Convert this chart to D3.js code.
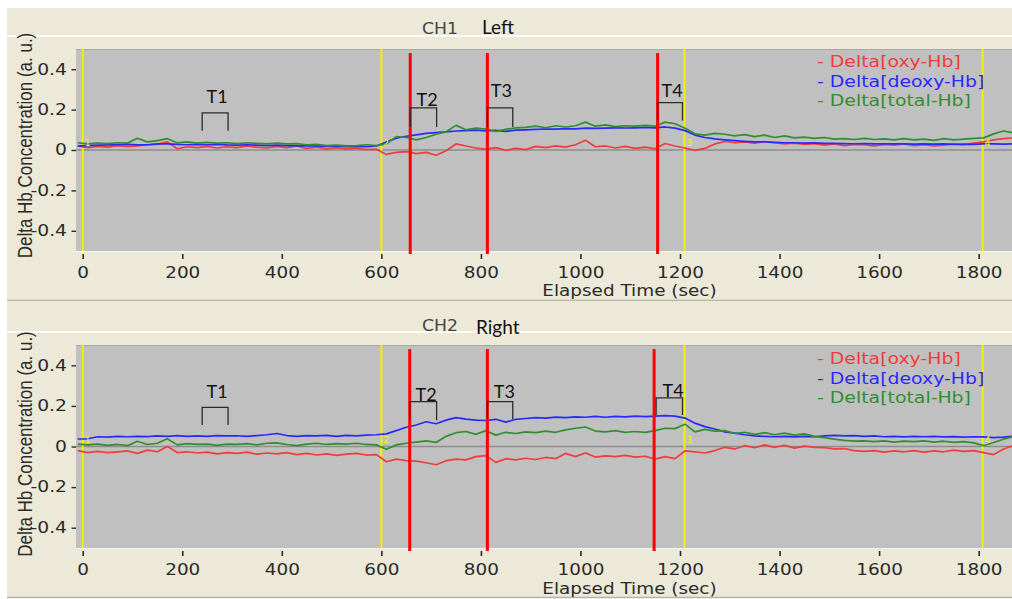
<!DOCTYPE html>
<html>
<head>
<meta charset="utf-8">
<script src="https://cdn.jsdelivr.net/npm/d3@7"></script>
<style>
  body { margin: 0; background: #ffffff; }
  svg { display: block; }
</style>
</head>
<body>
<svg id="chart" width="1012" height="599"></svg>
<script>
// ---- Sampling grid (seconds): time of sample i = sampleStart + i * sampleStep
const sampleStart = -10;
const sampleStep = 20;

// ---- CH1 (Left) hemoglobin changes, a.u.
const ch1Oxy = [0.02,0.012,0.018,0.014,0.022,0.016,0.02,0.026,0.028,0.04,0.006,0.016,0.012,0.018,0.01,0.016,0.012,0.02,0.014,0.01,
  0.018,0.012,0.02,0.008,0.014,0.006,0.012,0.004,0.008,0.002,0.004,-0.022,-0.012,-0.008,-0.018,-0.012,-0.026,-0.004,0.03,0.02,
  0.01,0.004,0.012,-0.002,0.008,0.002,0.018,0.012,0.02,0.014,0.026,0.048,0.016,0.02,0.01,0.018,0.008,0.014,0.006,0.032,
  0.02,0.01,-0.002,0.008,0.03,0.042,0.036,0.04,0.034,0.042,0.036,0.03,0.034,0.028,0.032,0.024,0.03,0.022,0.028,0.026,
  0.02,0.028,0.024,0.03,0.022,0.026,0.02,0.024,0.03,0.026,0.034,0.04,0.05,0.056,0.06];
const ch1Deoxy = [0.02,0.022,0.024,0.025,0.026,0.028,0.025,0.026,0.03,0.03,0.028,0.026,0.028,0.026,0.028,0.025,0.024,0.026,0.024,0.022,
  0.024,0.022,0.02,0.022,0.02,0.018,0.02,0.016,0.018,0.016,0.02,0.04,0.058,0.068,0.075,0.082,0.086,0.09,0.094,0.096,
  0.098,0.095,0.097,0.092,0.098,0.1,0.102,0.104,0.103,0.106,0.105,0.108,0.107,0.108,0.11,0.109,0.11,0.112,0.11,0.114,
  0.108,0.096,0.074,0.062,0.055,0.05,0.046,0.043,0.04,0.04,0.038,0.036,0.036,0.034,0.035,0.033,0.033,0.032,0.031,0.032,
  0.03,0.031,0.03,0.03,0.029,0.03,0.029,0.03,0.028,0.029,0.028,0.03,0.03,0.029,0.03];
const ch1Total = [0.036,0.03,0.034,0.032,0.036,0.034,0.058,0.04,0.046,0.056,0.036,0.04,0.034,0.038,0.034,0.036,0.032,0.036,0.033,0.03,
  0.034,0.03,0.032,0.026,0.028,0.022,0.024,0.02,0.022,0.026,0.022,0.03,0.066,0.062,0.05,0.062,0.078,0.09,0.122,0.1,
  0.108,0.104,0.092,0.102,0.11,0.112,0.118,0.11,0.12,0.114,0.12,0.138,0.118,0.124,0.116,0.12,0.118,0.122,0.118,0.138,
  0.13,0.108,0.08,0.074,0.082,0.078,0.07,0.076,0.066,0.074,0.062,0.07,0.06,0.064,0.058,0.062,0.054,0.056,0.052,0.058,
  0.052,0.055,0.05,0.056,0.05,0.054,0.048,0.056,0.05,0.054,0.058,0.06,0.08,0.094,0.084];

// ---- CH2 (Right) hemoglobin changes, a.u.
const ch2Oxy = [-0.02,-0.03,-0.024,-0.03,-0.026,-0.022,-0.034,-0.018,-0.026,0.0,-0.03,-0.026,-0.032,-0.028,-0.036,-0.03,-0.034,-0.028,-0.038,-0.032,
  -0.036,-0.03,-0.04,-0.034,-0.042,-0.036,-0.044,-0.038,-0.034,-0.042,-0.04,-0.075,-0.062,-0.07,-0.072,-0.08,-0.09,-0.07,-0.062,-0.066,
  -0.05,-0.045,-0.078,-0.06,-0.066,-0.058,-0.064,-0.054,-0.06,-0.034,-0.05,-0.032,-0.052,-0.046,-0.05,-0.044,-0.052,-0.048,-0.062,-0.05,
  -0.06,-0.022,-0.026,-0.032,-0.02,-0.004,-0.012,0.004,-0.006,0.008,-0.004,0.006,-0.008,0.002,-0.004,-0.006,-0.012,-0.01,-0.02,-0.024,
  -0.02,-0.028,-0.022,-0.026,-0.02,-0.028,-0.022,-0.026,-0.018,-0.024,-0.02,-0.03,-0.04,-0.012,0.004];
const ch2Deoxy = [0.037,0.038,0.048,0.046,0.05,0.048,0.05,0.049,0.052,0.05,0.054,0.05,0.052,0.05,0.054,0.052,0.053,0.05,0.054,0.058,
  0.064,0.054,0.05,0.054,0.052,0.055,0.05,0.055,0.052,0.056,0.058,0.062,0.078,0.095,0.106,0.122,0.112,0.13,0.142,0.135,
  0.13,0.128,0.134,0.12,0.134,0.138,0.142,0.14,0.145,0.142,0.146,0.144,0.148,0.144,0.148,0.146,0.15,0.147,0.15,0.152,
  0.15,0.14,0.115,0.098,0.086,0.072,0.066,0.058,0.052,0.05,0.048,0.05,0.047,0.05,0.048,0.052,0.055,0.052,0.054,0.05,
  0.052,0.048,0.05,0.047,0.05,0.048,0.05,0.047,0.049,0.046,0.048,0.047,0.044,0.046,0.05];
const ch2Total = [0.012,0.008,0.012,0.006,0.01,0.004,0.026,0.01,0.016,0.038,0.008,0.014,0.01,0.012,0.006,0.012,0.01,0.014,0.008,0.016,
  0.018,0.01,0.004,0.012,0.016,0.01,0.014,0.012,0.016,0.01,0.008,-0.014,0.008,0.016,0.022,0.028,0.02,0.05,0.068,0.074,
  0.06,0.078,0.056,0.07,0.064,0.072,0.068,0.076,0.07,0.082,0.09,0.096,0.076,0.072,0.078,0.07,0.074,0.07,0.078,0.09,
  0.088,0.11,0.072,0.084,0.076,0.078,0.064,0.07,0.06,0.068,0.058,0.066,0.056,0.062,0.05,0.044,0.036,0.03,0.026,0.028,
  0.024,0.028,0.022,0.026,0.024,0.028,0.022,0.026,0.02,0.024,0.018,0.004,0.02,0.036,0.05];

// ---- Axes
const xTicks = [0, 200, 400, 600, 800, 1000, 1200, 1400, 1600, 1800];
const yTicks = [-0.4, -0.2, 0, 0.2, 0.4];
const xDomain = [-13.5, 1867];
const yDomain = [-0.5, 0.5];

// ---- Legend
const seriesNames = ["Delta[oxy-Hb]", "Delta[deoxy-Hb]", "Delta[total-Hb]"];

// ---- Block markers (yellow) and event markers (red), seconds
const markerTimes = [0, 600, 1209, 1808];
const markerLabels = ["1", "2", "3", "4"];
const ch1Events = [658, 813, 1155];
const ch2Events = [657, 813, 1148];

// ---- Analysis windows T1..T4 (start/end in s; top/foot of bracket and label level in a.u.)
const windowNames = ["T1", "T2", "T3", "T4"];
const ch1WinStart = [240, 658, 813, 1155];
const ch1WinEnd = [292, 711, 864, 1205];
const ch1WinTop = [0.184, 0.209, 0.209, 0.235];
const ch1WinFoot = [0.095, 0.114, 0.114, 0.146];
const ch1WinLabelT = [270, 692, 841, 1184];
const ch1WinLabelV = [0.235, 0.22, 0.26, 0.26];
const ch2WinStart = [240, 657, 813, 1152];
const ch2WinEnd = [292, 711, 864, 1205];
const ch2WinTop = [0.193, 0.221, 0.221, 0.24];
const ch2WinFoot = [0.106, 0.129, 0.134, 0.155];
const ch2WinLabelT = [270, 690, 847, 1186];
const ch2WinLabelV = [0.239, 0.224, 0.239, 0.244];

const svg = d3.select("#chart");
const FONT = "'DejaVu Sans', Verdana, sans-serif";
const ANNOT = "Lato, 'Open Sans', sans-serif";
const colors = ["#f03c3c", "#2a2aff", "#2f8f2f"];

// text with a slight horizontal widening, as in the original acquisition software
function wideText(g, x, y, str, size, sx, fill, anchor, family) {
  return g.append("text")
    .attr("transform", `translate(${x},${y}) scale(${sx},1)`)
    .attr("font-family", family || FONT)
    .attr("font-size", size)
    .attr("fill", fill)
    .attr("text-anchor", anchor || "start")
    .text(str);
}

const panels = [
  { id: "ch1", frameTop: 8, frameBottom: 300, barLine: 35, plotTop: 49, plotBottom: 251,
    titleY: 34, sideY: 34.3, title: "CH1", side: "Left", sideX: 482, xLabelY: 296, yLabelC: 145.5,
    legendY: [67, 86.5, 106], data: [ch1Oxy, ch1Deoxy, ch1Total], events: ch1Events,
    win: [ch1WinStart, ch1WinEnd, ch1WinTop, ch1WinFoot, ch1WinLabelT, ch1WinLabelV] },
  { id: "ch2", frameTop: 301, frameBottom: 597, barLine: 331, plotTop: 345, plotBottom: 548,
    titleY: 330.7, sideY: 334, title: "CH2", side: "Right", sideX: 476, xLabelY: 593.5, yLabelC: 444,
    legendY: [364, 383.5, 403], data: [ch2Oxy, ch2Deoxy, ch2Total], events: ch2Events,
    win: [ch2WinStart, ch2WinEnd, ch2WinTop, ch2WinFoot, ch2WinLabelT, ch2WinLabelV] }
];

const plotLeft = 76, plotRight = 1012;

panels.forEach(p => {
  const g = svg.append("g").attr("id", p.id);

  // window frame
  g.append("rect").attr("x", 7).attr("y", p.frameTop).attr("width", 1012 - 7)
    .attr("height", p.frameBottom - p.frameTop).attr("fill", "#ece9d8");
  g.append("rect").attr("x", 7).attr("y", p.barLine).attr("width", 1012 - 7)
    .attr("height", 2).attr("fill", "#fbfaf4");
  g.append("line").attr("x1", 7).attr("x2", 1012).attr("y1", p.frameBottom + 0.5).attr("y2", p.frameBottom + 0.5)
    .attr("stroke", "#b8b4a4").attr("stroke-width", 1.5);

  const x = d3.scaleLinear().domain(xDomain).range([plotLeft, plotRight]);
  const y = d3.scaleLinear().domain(yDomain).range([p.plotBottom, p.plotTop]);

  // plot area
  g.append("rect").attr("x", plotLeft).attr("y", p.plotTop).attr("width", plotRight - plotLeft)
    .attr("height", p.plotBottom - p.plotTop).attr("fill", "#c0c0c0");
  g.append("line").attr("x1", plotLeft).attr("x2", plotRight).attr("y1", p.plotTop + 0.5).attr("y2", p.plotTop + 0.5)
    .attr("stroke", "#a8a8a8").attr("stroke-width", 1);
  g.append("line").attr("x1", plotLeft).attr("x2", plotRight).attr("y1", p.plotBottom + 0.5).attr("y2", p.plotBottom + 0.5)
    .attr("stroke", "#f4f4f0").attr("stroke-width", 1);

  const clipId = "clip-" + p.id;
  g.append("clipPath").attr("id", clipId).append("rect")
    .attr("x", plotLeft).attr("y", p.plotTop).attr("width", plotRight - plotLeft).attr("height", p.plotBottom - p.plotTop);
  const inner = g.append("g").attr("clip-path", `url(#${clipId})`);

  // zero line
  inner.append("line").attr("x1", plotLeft).attr("x2", plotRight).attr("y1", y(0)).attr("y2", y(0))
    .attr("stroke", "#8e8e8e").attr("stroke-width", 1.5);

  // block markers
  markerTimes.forEach(t => {
    inner.append("line").attr("x1", x(t)).attr("x2", x(t)).attr("y1", p.plotTop).attr("y2", p.plotBottom)
      .attr("stroke", "#f2f200").attr("stroke-width", 2);
  });

  // hemoglobin traces
  const line = d3.line().x((d, i) => x(sampleStart + i * sampleStep)).y(d => y(d));
  p.data.forEach((vals, k) => {
    inner.append("path").datum(vals).attr("d", line).attr("fill", "none")
      .attr("stroke", colors[k]).attr("stroke-width", 1.7).attr("stroke-linejoin", "round");
  });

  // block marker numbers
  markerTimes.forEach((t, i) => {
    inner.append("text").attr("x", x(t) + 2).attr("y", y(0) - 4)
      .attr("font-family", FONT).attr("font-size", 9).attr("fill", "#f4f400")
      .text(markerLabels[i]);
  });

  // event lines
  p.events.forEach(t => {
    g.append("line").attr("x1", x(t)).attr("x2", x(t)).attr("y1", y(0.48)).attr("y2", p.plotBottom + 3)
      .attr("stroke", "#ff0000").attr("stroke-width", 3);
  });

  // analysis-window brackets
  const [ws, we, wt, wf, lt, lv] = p.win;
  windowNames.forEach((name, i) => {
    g.append("path")
      .attr("d", `M${x(ws[i])},${y(wf[i])}V${y(wt[i])}H${x(we[i])}V${y(wf[i])}`)
      .attr("fill", "none").attr("stroke", "#2a2a2a").attr("stroke-width", 1.3);
    g.append("text").attr("x", x(lt[i])).attr("y", y(lv[i]))
      .attr("font-family", ANNOT).attr("font-size", 18).attr("fill", "#111")
      .attr("text-anchor", "middle").text(name);
  });

  // legend
  seriesNames.forEach((name, k) => {
    wideText(g, 817, p.legendY[k], "- " + name, 16, 1.18, colors[k]);
  });

  // x axis
  const xAxis = d3.axisBottom(x).tickValues(xTicks).tickSize(5).tickPadding(8).tickFormat(d3.format("d"));
  const xa = g.append("g").attr("transform", `translate(0,${p.plotBottom + 3})`).call(xAxis);
  xa.select(".domain").remove();
  xa.selectAll(".tick line").attr("stroke", "#2a2a2a").attr("stroke-width", 1.6);
  xa.selectAll(".tick text").attr("font-family", FONT).attr("font-size", 16).attr("fill", "#2a2a2a")
    .attr("transform", "scale(1.15,1)");

  // y axis (plain hyphen-minus for negative values)
  const yAxis = d3.axisLeft(y).tickValues(yTicks).tickSize(4.5).tickPadding(4)
    .tickFormat(d => d === 0 ? "0" : d.toFixed(1));
  const ya = g.append("g").attr("transform", `translate(${plotLeft},0)`).call(yAxis);
  ya.select(".domain").remove();
  ya.selectAll(".tick line").attr("stroke", "#2a2a2a").attr("stroke-width", 1.4);
  ya.selectAll(".tick text").attr("font-family", FONT).attr("font-size", 15).attr("fill", "#2a2a2a")
    .attr("x", -9 / 1.25).attr("transform", "scale(1.25,1)");

  // axis titles
  wideText(g, 629.5, p.xLabelY, "Elapsed Time (sec)", 16, 1.15, "#2a2a2a", "middle");
  g.append("text")
    .attr("transform", `translate(32,${p.yLabelC}) scale(1.15,1) rotate(-90)`)
    .attr("font-family", "'Liberation Sans', Arial, sans-serif").attr("font-size", 17)
    .attr("fill", "#2a2a2a").attr("text-anchor", "middle")
    .text("Delta Hb Concentration (a. u.)");

  // channel title
  wideText(g, 422, p.titleY, p.title, 15, 1.15, "#444", "start");
  g.append("text").attr("x", p.sideX).attr("y", p.sideY)
    .attr("font-family", ANNOT).attr("font-size", 19).attr("fill", "#111").text(p.side);
});
</script>
</body>
</html>
